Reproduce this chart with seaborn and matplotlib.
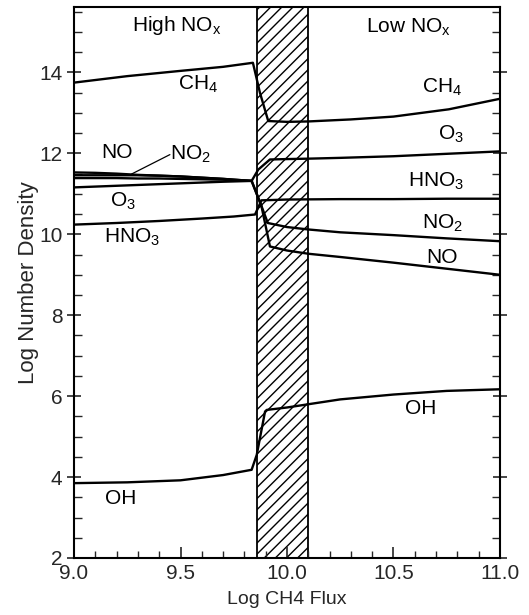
import matplotlib
matplotlib.use("Agg")
import matplotlib.pyplot as plt
import seaborn as sns
from matplotlib.ticker import MultipleLocator

# transition band (log CH4 flux)
band_lo, band_hi = 9.86, 10.10

# curves (log number density)
ch4_x = [9.0, 9.25, 9.5, 9.7, 9.84, 9.873, 9.912, 10.0, 10.1, 10.3, 10.5, 10.76, 11.0]
ch4_y = [13.75, 13.91, 14.04, 14.14, 14.24, 13.50, 12.80, 12.78, 12.79, 12.84, 12.91, 13.09, 13.35]

no_x = [9.0, 9.1, 9.2, 9.3, 9.4, 9.5, 9.6, 9.7, 9.834, 9.88, 9.92, 10.0, 10.1, 10.25, 10.5, 10.75, 11.0]
no_y = [11.53, 11.52, 11.50, 11.47, 11.45, 11.43, 11.40, 11.37, 11.32, 10.70, 9.70, 9.60, 9.52, 9.44, 9.30, 9.15, 9.00]

no2_x = [9.0, 9.1, 9.2, 9.3, 9.4, 9.5, 9.6, 9.7, 9.834, 9.88, 9.91, 10.0, 10.1, 10.25, 10.5, 10.75, 11.0]
no2_y = [11.46, 11.46, 11.46, 11.46, 11.45, 11.43, 11.40, 11.37, 11.32, 10.70, 10.28, 10.18, 10.12, 10.05, 9.98, 9.90, 9.83]

# unlabelled third line of the NO/NO2 bundle (high NOx side only)
mid_x = [9.0, 9.1, 9.2, 9.3, 9.4, 9.5, 9.6, 9.7, 9.834]
mid_y = [11.39, 11.39, 11.39, 11.38, 11.38, 11.37, 11.36, 11.35, 11.32]

o3_x = [9.0, 9.1, 9.2, 9.3, 9.4, 9.5, 9.6, 9.7, 9.834, 9.865, 9.92, 10.0, 10.1, 10.25, 10.5, 10.75, 11.0]
o3_y = [11.16, 11.18, 11.20, 11.22, 11.24, 11.26, 11.28, 11.30, 11.32, 11.60, 11.85, 11.86, 11.87, 11.89, 11.93, 11.99, 12.05]

hno3_x = [9.0, 9.2, 9.4, 9.6, 9.75, 9.85, 9.88, 10.0, 10.25, 10.5, 10.75, 11.0]
hno3_y = [10.24, 10.28, 10.33, 10.39, 10.44, 10.49, 10.84, 10.86, 10.87, 10.87, 10.88, 10.88]

oh_x = [9.0, 9.25, 9.5, 9.7, 9.834, 9.858, 9.897, 9.905, 10.0, 10.1, 10.25, 10.5, 10.75, 11.0]
oh_y = [3.85, 3.87, 3.92, 4.05, 4.18, 4.55, 5.62, 5.66, 5.72, 5.80, 5.92, 6.04, 6.13, 6.17]

# curve labels: text, x, y
labels = [
    ("High NO$_x$", 9.48, 15.15),
    ("Low NO$_x$", 10.57, 15.12),
    ("CH$_4$", 9.58, 13.71),
    ("NO", 9.20, 12.02),
    ("NO$_2$", 9.545, 11.98),
    ("O$_3$", 9.23, 10.82),
    ("HNO$_3$", 9.27, 9.92),
    ("OH", 9.22, 3.48),
    ("CH$_4$", 10.73, 13.63),
    ("O$_3$", 10.77, 12.47),
    ("HNO$_3$", 10.70, 11.32),
    ("NO$_2$", 10.73, 10.28),
    ("NO", 10.73, 9.42),
    ("OH", 10.63, 5.70),
]

sns.set_theme(style="ticks")
plt.rcParams['font.family'] = ['Liberation Sans', 'DejaVu Sans']
plt.rcParams['mathtext.default'] = 'regular'
plt.rcParams['hatch.linewidth'] = 1.0

fig = plt.figure(figsize=(5.29, 6.15), dpi=100)
ax = fig.add_axes([0.14, 0.0927, 0.805, 0.896])

ax.axvspan(band_lo, band_hi, facecolor='white', edgecolor='black',
           hatch='///', lw=1.3, zorder=0)

for xs, ys in [(ch4_x, ch4_y), (no_x, no_y), (no2_x, no2_y), (mid_x, mid_y),
               (o3_x, o3_y), (hno3_x, hno3_y), (oh_x, oh_y)]:
    sns.lineplot(x=xs, y=ys, ax=ax, color='black', lw=1.7,
                 estimator=None, sort=False, zorder=3)

for txt, lx, ly in labels:
    ax.text(lx, ly, txt, fontsize=15, ha='center', va='center', color='black')

# leader from the NO2 label to its line
ax.plot([9.45, 9.27], [11.97, 11.49], color='black', lw=0.9)

ax.set_xlim(9.0, 11.0)
ax.set_ylim(2, 15.62)
ax.xaxis.set_major_locator(MultipleLocator(0.5))
ax.xaxis.set_minor_locator(MultipleLocator(0.1))
ax.yaxis.set_major_locator(MultipleLocator(2))
ax.yaxis.set_minor_locator(MultipleLocator(0.5))
ax.set_xticklabels([], minor=True)
ax.xaxis.set_major_formatter(matplotlib.ticker.FormatStrFormatter('%.1f'))

ax.tick_params(axis='x', which='major', direction='in', length=8, width=1.2,
               labelsize=15, pad=4)
ax.tick_params(axis='x', which='minor', direction='in', length=5, width=1.0)
ax.tick_params(axis='y', which='major', direction='inout', length=10, width=1.2,
               labelsize=15, right=True)
ax.tick_params(axis='y', which='minor', direction='in', length=6, width=1.0,
               right=True)

for side in ['left', 'right', 'top', 'bottom']:
    ax.spines[side].set_visible(True)
    ax.spines[side].set_linewidth(1.5)
    ax.spines[side].set_color('black')

ax.set_xlabel("Log CH4 Flux", fontsize=14, labelpad=6)
ax.set_ylabel("Log Number Density", fontsize=16, labelpad=0)

fig.savefig("out.png", dpi=100, facecolor='white')
